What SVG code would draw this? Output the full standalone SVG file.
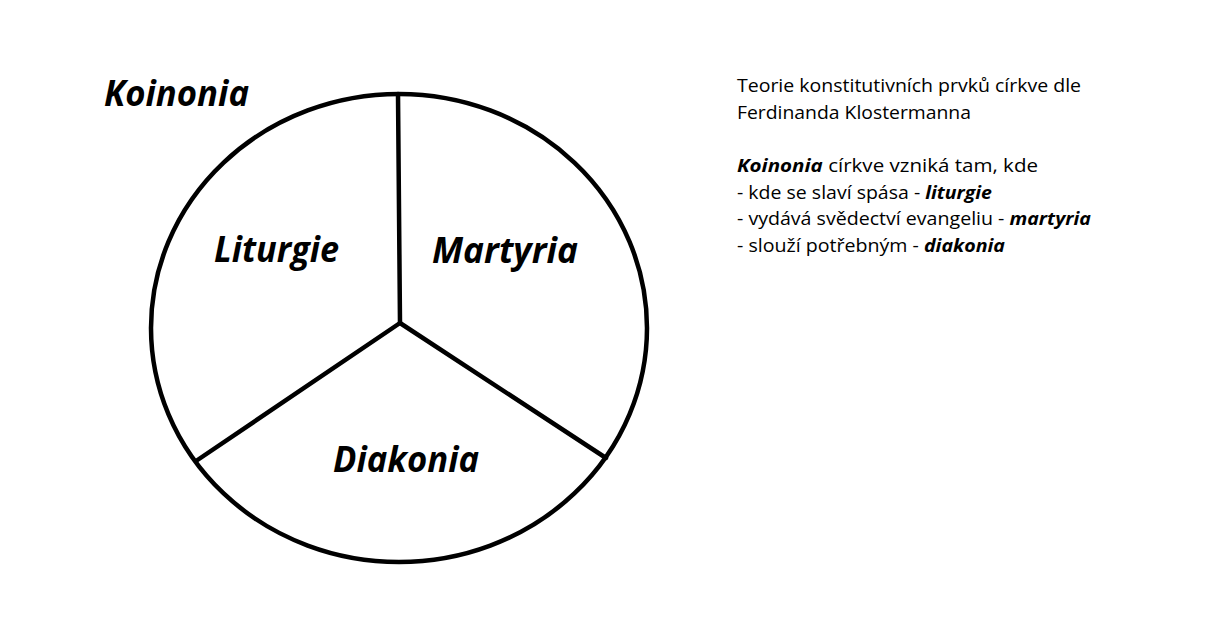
<svg xmlns="http://www.w3.org/2000/svg" width="1220" height="628" viewBox="0 0 1220 628">
<style>
.lbl{font-family:"Open Sans","Noto Sans","Liberation Sans",sans-serif;font-weight:bold;font-style:italic;font-size:36px;fill:#000}
.txt{font-family:"Open Sans","Noto Sans","Liberation Sans",sans-serif;font-size:18.5px;fill:#000}
.bi{font-weight:bold;font-style:italic}
.ln{stroke:#000;stroke-width:4.5;fill:none;stroke-linecap:round}
</style>
<rect width="1220" height="628" fill="#fff"/>
<g id="circle">
<ellipse class="ln" cx="399" cy="328" rx="248" ry="234"/>
</g>
<g id="connectors">
<line class="ln" x1="398" y1="94" x2="400" y2="323"/>
<line class="ln" x1="400" y1="323" x2="196" y2="461"/>
<line class="ln" x1="400" y1="323" x2="606" y2="458"/>
</g>
<g id="koinonia"><text class="lbl" x="104" y="106" textLength="145" lengthAdjust="spacingAndGlyphs">Koinonia</text></g>
<g id="liturgie"><text class="lbl" x="214" y="262" textLength="125" lengthAdjust="spacingAndGlyphs">Liturgie</text></g>
<g id="martyria"><text class="lbl" x="432" y="263" textLength="146" lengthAdjust="spacingAndGlyphs">Martyria</text></g>
<g id="diakonia"><text class="lbl" x="333" y="472" textLength="146" lengthAdjust="spacingAndGlyphs">Diakonia</text></g>
<g id="description">
<text class="txt" x="737" y="92" textLength="344" lengthAdjust="spacingAndGlyphs">Teorie konstitutivních prvků církve dle</text>
<text class="txt" x="737" y="119" textLength="234" lengthAdjust="spacingAndGlyphs">Ferdinanda Klostermanna</text>
<text class="txt" x="737" y="172" textLength="301" lengthAdjust="spacingAndGlyphs"><tspan class="bi">Koinonia</tspan> církve vzniká tam, kde</text>
<text class="txt" x="737" y="199" textLength="255" lengthAdjust="spacingAndGlyphs">- kde se slaví spása - <tspan class="bi">liturgie</tspan></text>
<text class="txt" x="737" y="225" textLength="354" lengthAdjust="spacingAndGlyphs">- vydává svědectví evangeliu - <tspan class="bi">martyria</tspan></text>
<text class="txt" x="737" y="252" textLength="268" lengthAdjust="spacingAndGlyphs">- slouží potřebným - <tspan class="bi">diakonia</tspan></text>
</g>
</svg>
